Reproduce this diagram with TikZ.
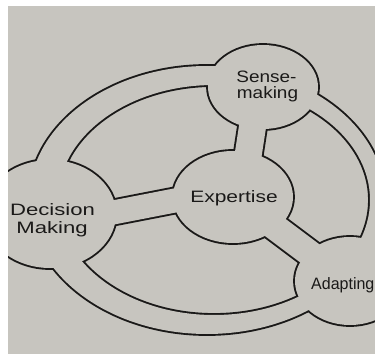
\documentclass[tikz,border=0pt]{standalone}
\usepackage{fontspec}
\setmainfont{Liberation Sans}
\definecolor{ink}{RGB}{26,25,24}
\definecolor{paper}{RGB}{199,197,191}
\begin{document}
\begin{tikzpicture}[x=1pt,y=1pt,
  inkline/.style={draw=ink, line width=3.8pt},
  paperfill/.style={fill=paper, draw=none},
  lbl/.style={font=\fontsize{16.5}{19}\selectfont, text=ink, inner sep=0pt, anchor=base}]
\useasboundingbox (0,0) rectangle (375,354);
\fill[white] (0,0) rectangle (375,354);
\fill[paper] (8,0) rectangle (375,348);
% centres and spoke ends
\coordinate (ringO) at (207,154);
\coordinate (ringI) at (214,154);
\coordinate (sense) at (263,267);
\coordinate (dec) at (50,140);
\coordinate (exp) at (233,157);
\coordinate (adapt) at (350,73);
\coordinate (se1) at (246,185);
\coordinate (se2) at (256,250);
\coordinate (de1) at (95,138);
\coordinate (de2) at (200,158.4);
\coordinate (ea1) at (263,135.7);
\coordinate (ea2) at (335.2,81.6);
\begin{scope}
\clip (8,0) rectangle (375,348);
% ink layer
\draw[inkline] (ringO) ellipse[x radius=178, y radius=134];
\draw[inkline] (ringI) ellipse[x radius=156, y radius=115];
\draw[inkline] (sense) ellipse[x radius=55, y radius=42];
\draw[inkline] (dec) ellipse[x radius=66, y radius=54];
\draw[inkline] (exp) ellipse[x radius=60, y radius=46];
\draw[inkline] (adapt) ellipse[x radius=55, y radius=44];
\draw[ink, line width=30.8pt] (se1) -- (se2);
\draw[ink, line width=27.8pt] (de1) -- (de2);
\draw[ink, line width=29.8pt] (ea1) -- (ea2);
% paper layer
\fill[paper, even odd rule] (ringO) ellipse[x radius=178, y radius=134]
                           (ringI) ellipse[x radius=156, y radius=115];
\draw[paper, line width=27pt] (se1) -- (se2);
\draw[paper, line width=24pt] (de1) -- (de2);
\draw[paper, line width=26pt] (ea1) -- (ea2);
\fill[paperfill] (sense) ellipse[x radius=55, y radius=42];
\fill[paperfill] (dec) ellipse[x radius=66, y radius=54];
\fill[paperfill] (exp) ellipse[x radius=60, y radius=46];
\fill[paperfill] (adapt) ellipse[x radius=55, y radius=44];
% labels
\node[lbl, xscale=1.15] (tsense1) at (266.5,271) {Sense-};
\node[lbl, xscale=1.15] (tsense2) at (267.5,255) {making};
\node[lbl, xscale=1.27] (texp) at (234,151) {Expertise};
\node[lbl, xscale=1.34] (tdec1) at (52.5,139) {Decision};
\node[lbl, xscale=1.34] (tdec2) at (52,121) {Making};
\node[lbl, anchor=base west, xscale=0.97] (tadapt) at (311,65) {Adapting};
\end{scope}
\end{tikzpicture}
\end{document}
